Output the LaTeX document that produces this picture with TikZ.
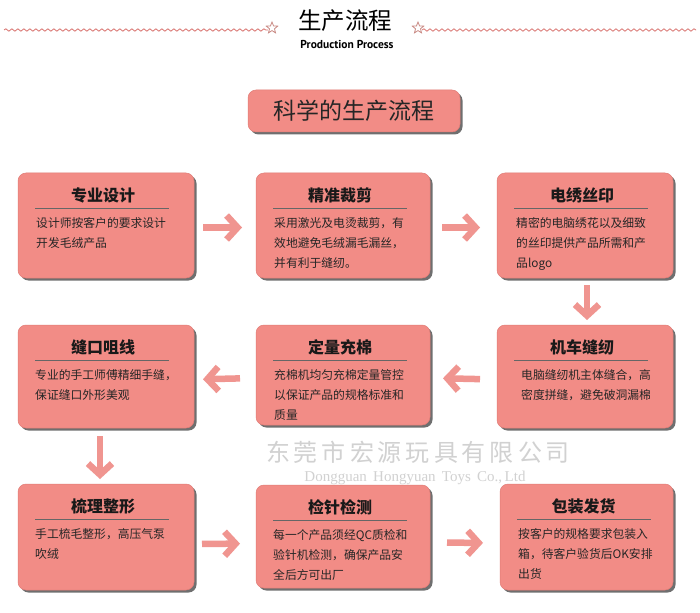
\documentclass[tikz,border=0pt]{standalone}
\usepackage{fontspec}
\setmainfont{Noto Sans CJK SC}
\newfontfamily\ptsans{PT Sans}
\newfontfamily\wmserif{Liberation Serif}
\usetikzlibrary{calc,shadows,arrows.meta,shapes.geometric,decorations.pathmorphing}
\definecolor{boxc}{HTML}{F28C86}
\definecolor{boxedge}{HTML}{E07C76}
\definecolor{arrc}{HTML}{F09590}
\definecolor{wavec}{HTML}{D9736F}
\definecolor{starc}{HTML}{C98A84}
\tikzset{
  pbox/.style={rounded corners=8pt, fill=boxc, draw=boxedge, line width=0.5pt,
    inner sep=0pt, outer sep=0pt,
    drop shadow={shadow xshift=2.5pt, shadow yshift=-2.5pt, fill=black!75, opacity=0.75}},
  ptitle/.style={font=\bfseries\fontsize{16}{16}\selectfont, text=black!90, inner sep=0pt},
  pbody/.style={anchor=north west, align=left, inner sep=0pt,
    font=\fontsize{11.8}{20}\selectfont, text=black!85},
  uline/.style={draw=black!60, line width=1pt},
  arr/.style={draw=arrc, line width=6.5pt, -{Straight Barb[length=11pt, width=24pt]}},
  wavy/.style={draw=wavec, line width=0.8pt, decorate,
    decoration={snake, amplitude=1.2pt, segment length=6pt}},
  starn/.style={star, star points=5, star point ratio=2.3, draw=starc, line width=0.8pt,
    minimum size=12pt, inner sep=0pt},
  wm/.style={text=black!18, inner sep=0pt}
}
\newcommand\procbox[8]{%
  \node[pbox, minimum width={(#4-#2)*1pt}, minimum height={(#5-#3)*1pt}, anchor=north west] (#1) at (#2,#3) {};
  \node[ptitle] (#1t) at ($(#1.north)+(-3,22)$) {#6};
  \draw[uline] ($(#1.north west)+(17,35)$) -- ($(#1.north west)+(151,35)$);
  \node[pbody] (#1b) at ($(#1.north west)+(#8,44)$) {#7};
}
\begin{document}
\begin{tikzpicture}[x=1pt, y=-1pt]
\fill[white] (0,0) rectangle (700,612);
\useasboundingbox (0,0) rectangle (700,612);
% header
\node[inner sep=0pt, font=\fontsize{23.5}{23.5}\selectfont] (head) at (345,21) {生产流程};
\node[inner sep=0pt, font=\ptsans\bfseries\fontsize{11.5}{11.5}\selectfont] (sub) at (347,44) {Production Process};
\node[starn] (sl) at (272,28) {};
\node[starn] (sr) at (418,28) {};
\coordinate (wl) at (4,30);
\coordinate (wr) at (696,30);
\draw[wavy] (wl) -- (sl.west |- wl);
\draw[wavy] (sr.east |- wr) -- (wr);
% banner
\node[pbox, minimum width=212pt, minimum height=42pt, font=\fontsize{23}{23}\selectfont, text=black!85] (banner) at (354,111) {科学的生产流程};
% watermark
\node[wm, font=\fontsize{24}{24}\selectfont] (wm1) at (418,452) {东\,莞\,市\,宏\,源\,玩\,具\,有\,限\,公\,司};
\node[wm, font=\wmserif\fontsize{15}{15}\selectfont] (wm2) at (415,478) {Dongguan\, Hongyuan\, Toys\, Co.,\,Ltd};
% boxes
\procbox{b1}{18}{173}{194}{278}{专业设计}{设计师按客户的要求设计\\开发毛绒产品}{18}
\procbox{b2}{256}{173}{430}{278}{精准裁剪}{采用激光及电烫裁剪，有\\效地避免毛绒漏毛漏丝，\\并有利于缝纫。}{18}
\procbox{b3}{497}{173}{673}{278}{电绣丝印}{精密的电脑绣花以及细致\\的丝印提供产品所需和产\\品logo}{19}
\procbox{b4}{18}{325}{194}{428}{缝口咀线}{专业的手工师傅精细手缝，\\保证缝口外形美观}{17}
\procbox{b5}{256}{325}{430}{425}{定量充棉}{充棉机均匀充棉定量管控\\以保证产品的规格标准和\\质量}{18}
\procbox{b6}{497}{325}{673}{428}{机车缝纫}{电脑缝纫机主体缝合，高\\密度拼缝，避免破洞漏棉}{24}
\procbox{b7}{18}{484}{194}{590}{梳理整形}{手工梳毛整形，高压气泵\\吹绒}{17}
\procbox{b8}{256}{485}{430}{588}{检针检测}{每一个产品须经QC质检和\\验针机检测，确保产品安\\全后方可出厂}{17}
\procbox{b9}{500}{484}{673}{590}{包装发货}{按客户的规格要求包装入\\箱，待客户验货后OK安排\\出货}{18}
% arrows
\draw[arr, shorten <=9pt, shorten >=14pt] ([yshift=-2pt]b1.east) -- ([yshift=-2pt]b2.west);
\draw[arr, shorten <=12pt, shorten >=17pt] ([yshift=-2pt]b2.east) -- ([yshift=-2pt]b3.west);
\draw[arr, shorten <=7pt, shorten >=5pt] ([xshift=2pt]b3.south) -- ([xshift=2pt]b6.north);
\draw[arr, shorten <=17pt, shorten >=13pt] ([yshift=-3pt]b6.west) -- ([yshift=-3pt]b5.east);
\draw[arr, shorten <=16pt, shorten >=9pt] ([yshift=-3pt]b5.west) -- ([yshift=-3pt]b4.east);
\draw[arr, shorten <=8pt, shorten >=5pt] ([xshift=-6pt]b4.south) -- ([xshift=-6pt]b7.north);
\draw[arr, shorten <=8pt, shorten >=16pt] ([yshift=-7pt]b7.east) -- ([yshift=-7pt]b8.west);
\draw[arr, shorten <=17pt, shorten >=17pt] ([yshift=-6pt]b8.east) -- ([yshift=-6pt]b9.west);
\end{tikzpicture}
\end{document}
